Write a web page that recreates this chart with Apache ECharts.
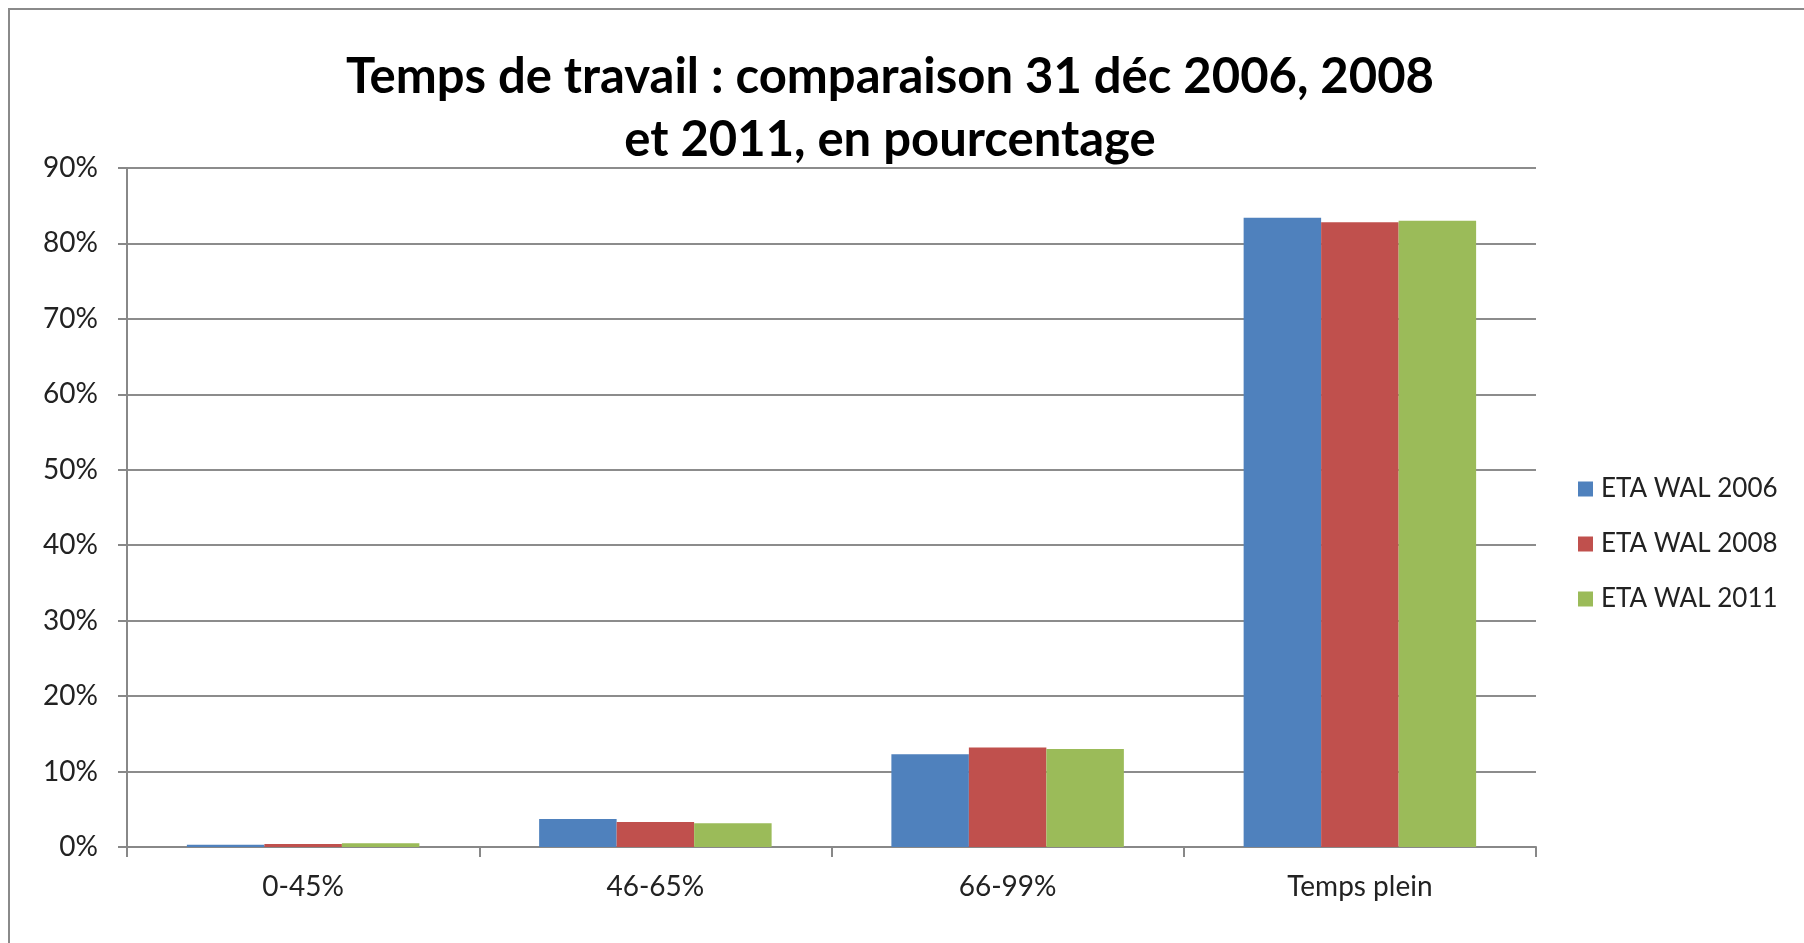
<!DOCTYPE html>
<html>
<head>
<meta charset="utf-8">
<script src="https://cdn.jsdelivr.net/npm/echarts@6/dist/echarts.min.js"></script>
<style>
    html, body { margin: 0; padding: 0; background: #fff; }
    #bar { width: 1804px; height: 943px; }
</style>
</head>
<body>
<div id="bar"></div>
<script>
    // catégories et valeurs (en %)
    const categories = ['0-45%', '46-65%', '66-99%', 'Temps plein']
    const seriesNames = ['ETA WAL 2006', 'ETA WAL 2008', 'ETA WAL 2011']
    const wal2006 = [0.3, 3.7, 12.3, 83.4]
    const wal2008 = [0.4, 3.3, 13.2, 82.8]
    const wal2011 = [0.5, 3.15, 13.0, 83.0]
    const colors = ['#4F81BD', '#C0504D', '#9BBB59']

    let myChart = echarts.init(document.getElementById('bar'))

    const fontFam = 'Lato, "Open Sans", sans-serif'

    let option = {
        backgroundColor: '#fff',
        color: colors,
        title: {
            text: 'Temps de travail : comparaison 31 déc 2006, 2008\net 2011, en pourcentage',
            left: 885,
            top: 41,
            textAlign: 'center',
            textStyle: {
                fontFamily: fontFam,
                fontWeight: 'bold',
                fontSize: 49,
                lineHeight: 63,
                color: '#000'
            }
        },
        graphic: [{
            type: 'rect',
            shape: { x: 9, y: 9, width: 2000, height: 1200 },
            style: { fill: 'none', stroke: '#8a8a8a', lineWidth: 2 },
            silent: true
        }],
        legend: {
            orient: 'vertical',
            left: 1573,
            top: 471,
            itemWidth: 15,
            itemHeight: 15,
            itemGap: 29,
            icon: 'rect',
            data: seriesNames,
            textStyle: {
                fontFamily: fontFam,
                fontSize: 26,
                lineHeight: 15,
                color: '#222',
                padding: [0, 0, 0, 3]
            }
        },
        grid: {
            left: 127,
            right: 268,
            top: 168,
            bottom: 96
        },
        xAxis: {
            type: 'category',
            data: categories,
            axisLine: { lineStyle: { color: '#888', width: 2 } },
            axisTick: { show: true, length: 10, lineStyle: { color: '#888', width: 2 } },
            axisLabel: {
                margin: 26,
                fontFamily: fontFam,
                fontSize: 28,
                color: '#222'
            }
        },
        yAxis: {
            type: 'value',
            min: 0,
            max: 90,
            interval: 10,
            axisLine: { show: true, lineStyle: { color: '#888', width: 2 } },
            axisTick: { show: true, length: 9, lineStyle: { color: '#888', width: 2 } },
            splitLine: { lineStyle: { color: '#8c8c8c', width: 2 } },
            axisLabel: {
                formatter: '{value}%',
                margin: 29,
                fontFamily: fontFam,
                fontSize: 28,
                color: '#222'
            }
        },
        series: [
            { name: seriesNames[0], type: 'bar', data: wal2006, barWidth: '22%', barGap: '0%' },
            { name: seriesNames[1], type: 'bar', data: wal2008, barWidth: '22%', barGap: '0%' },
            { name: seriesNames[2], type: 'bar', data: wal2011, barWidth: '22%', barGap: '0%' }
        ]
    }
    myChart.setOption(option)
</script>
</body>
</html>
